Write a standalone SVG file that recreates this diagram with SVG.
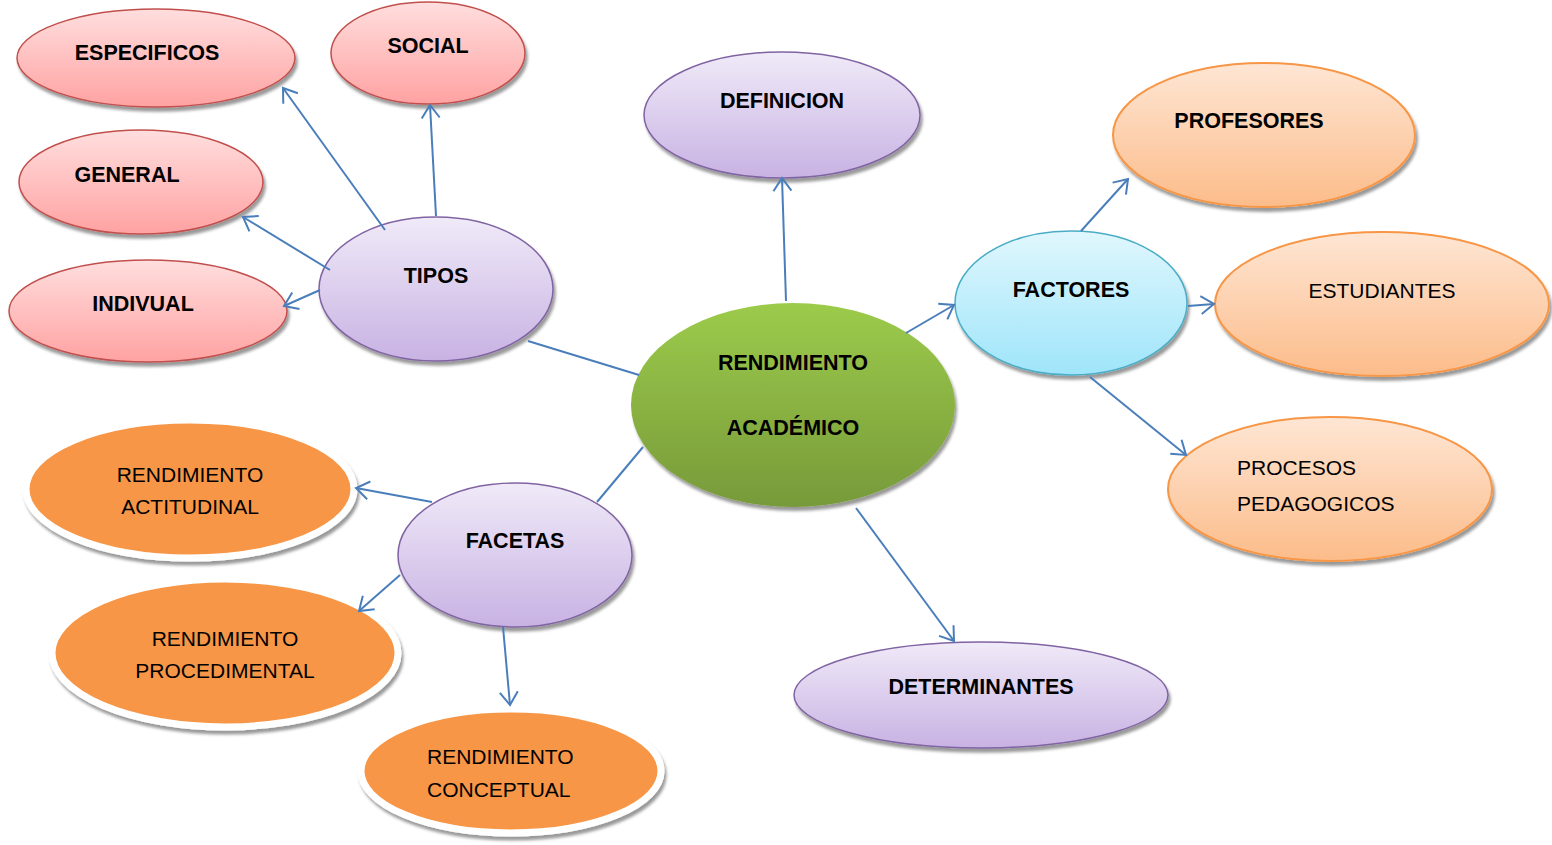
<svg xmlns="http://www.w3.org/2000/svg" width="1552" height="845" viewBox="0 0 1552 845">
<defs>
<linearGradient id="gPink" x1="0" y1="0" x2="0" y2="1"><stop offset="0" stop-color="#FFDEDE"/><stop offset="1" stop-color="#FFA2A2"/></linearGradient>
<linearGradient id="gLav" x1="0" y1="0" x2="0" y2="1"><stop offset="0" stop-color="#F0EAF8"/><stop offset="1" stop-color="#C8B2E3"/></linearGradient>
<linearGradient id="gCyan" x1="0" y1="0" x2="0" y2="1"><stop offset="0" stop-color="#E0F7FD"/><stop offset="1" stop-color="#9FE5FA"/></linearGradient>
<linearGradient id="gPeach" x1="0" y1="0" x2="0" y2="1"><stop offset="0" stop-color="#FEE6D4"/><stop offset="1" stop-color="#FCBC8A"/></linearGradient>
<linearGradient id="gGreen" x1="0" y1="0" x2="0" y2="1"><stop offset="0" stop-color="#9CCB4B"/><stop offset="1" stop-color="#779A3A"/></linearGradient>
<filter id="sh" x="-10%" y="-10%" width="125%" height="130%"><feDropShadow dx="2" dy="4" stdDeviation="1.5" flood-color="#000" flood-opacity="0.4"/></filter>
<marker id="arr" markerUnits="userSpaceOnUse" markerWidth="22" markerHeight="22" viewBox="0 0 22 22" refX="15" refY="11" orient="auto">
<path d="M2,2 L15,11 L2,20" fill="none" stroke="#4A7EBB" stroke-width="2"/>
</marker>
</defs>
<style>
.pink{fill:url(#gPink);stroke:#C0504D;stroke-width:1.5;filter:url(#sh)}
.lav{fill:url(#gLav);stroke:#8064A2;stroke-width:1.5;filter:url(#sh)}
.cyan{fill:url(#gCyan);stroke:#4BACC6;stroke-width:1.5;filter:url(#sh)}
.peach{fill:url(#gPeach);stroke:#F79646;stroke-width:2;filter:url(#sh)}
.green{fill:url(#gGreen);stroke:none;filter:url(#sh)}
.orng{fill:#F79646;stroke:#FFFFFF;stroke-width:7;filter:url(#sh)}
.b{font-family:"Liberation Sans",Arial,sans-serif;font-weight:bold;font-size:21.5px;fill:#000;text-anchor:middle}
.n{font-family:"Liberation Sans",Arial,sans-serif;font-size:21px;fill:#000;text-anchor:middle}
.nl{font-family:"Liberation Sans",Arial,sans-serif;font-size:21px;fill:#000}
.c{stroke:#4A7EBB;stroke-width:2;fill:none}
.ca{stroke:#4A7EBB;stroke-width:2;fill:none;marker-end:url(#arr)}
</style>
<rect width="1552" height="845" fill="#FFFFFF"/>
<g id="especificos"><ellipse class="pink" cx="156" cy="58" rx="139" ry="49"/><text class="b" x="147" y="60">ESPECIFICOS</text></g>
<g id="social"><ellipse class="pink" cx="428" cy="53" rx="97" ry="51"/><text class="b" x="428" y="53">SOCIAL</text></g>
<g id="general"><ellipse class="pink" cx="141" cy="182" rx="122" ry="52"/><text class="b" x="127" y="182">GENERAL</text></g>
<g id="indivual"><ellipse class="pink" cx="148" cy="311" rx="139" ry="51"/><text class="b" x="143" y="311">INDIVUAL</text></g>
<g id="tipos"><ellipse class="lav" cx="436" cy="289" rx="117" ry="72"/><text class="b" x="436" y="283">TIPOS</text></g>
<g id="definicion"><ellipse class="lav" cx="782" cy="115" rx="138" ry="63"/><text class="b" x="782" y="108">DEFINICION</text></g>
<g id="rendimiento"><ellipse class="green" cx="793" cy="405" rx="162" ry="102"/><text class="b" x="793" y="370">RENDIMIENTO</text><text class="b" x="793" y="435">ACADÉMICO</text></g>
<g id="factores"><ellipse class="cyan" cx="1071" cy="303" rx="116" ry="72"/><text class="b" x="1071" y="297">FACTORES</text></g>
<g id="profesores"><ellipse class="peach" cx="1264" cy="135" rx="151" ry="72"/><text class="b" x="1249" y="128">PROFESORES</text></g>
<g id="estudiantes"><ellipse class="peach" cx="1382" cy="304" rx="167" ry="72"/><text class="n" x="1382" y="298">ESTUDIANTES</text></g>
<g id="procesos"><ellipse class="peach" cx="1330" cy="489" rx="162" ry="72"/><text class="nl" x="1237" y="475">PROCESOS</text><text class="nl" x="1237" y="511">PEDAGOGICOS</text></g>
<g id="facetas"><ellipse class="lav" cx="515" cy="555" rx="117" ry="72"/><text class="b" x="515" y="548">FACETAS</text></g>
<g id="actitudinal"><ellipse class="orng" cx="190" cy="489" rx="164" ry="69"/><text class="n" x="190" y="482">RENDIMIENTO</text><text class="n" x="190" y="514">ACTITUDINAL</text></g>
<g id="procedimental"><ellipse class="orng" cx="225" cy="653" rx="173" ry="74"/><text class="n" x="225" y="646">RENDIMIENTO</text><text class="n" x="225" y="678">PROCEDIMENTAL</text></g>
<g id="conceptual"><ellipse class="orng" cx="511" cy="771" rx="150" ry="62"/><text class="nl" x="427" y="764">RENDIMIENTO</text><text class="nl" x="427" y="797">CONCEPTUAL</text></g>
<g id="determinantes"><ellipse class="lav" cx="981" cy="695" rx="187" ry="53"/><text class="b" x="981" y="694">DETERMINANTES</text></g>
<g id="connectors">
<line class="ca" x1="385" y1="230" x2="283" y2="88"/>
<line class="ca" x1="436" y1="216" x2="430" y2="105"/>
<line class="ca" x1="330" y1="270" x2="243" y2="217"/>
<line class="ca" x1="320" y1="290" x2="284" y2="306"/>
<line class="c" x1="528" y1="341" x2="639" y2="375"/>
<line class="ca" x1="786" y1="301" x2="782" y2="178"/>
<line class="ca" x1="906" y1="333" x2="954" y2="305"/>
<line class="ca" x1="1081" y1="231" x2="1128" y2="179"/>
<line class="ca" x1="1188" y1="306" x2="1214" y2="304"/>
<line class="ca" x1="1090" y1="377" x2="1186" y2="455"/>
<line class="ca" x1="856" y1="508" x2="954" y2="641"/>
<line class="c" x1="643" y1="447" x2="597" y2="502"/>
<line class="ca" x1="432" y1="502" x2="356" y2="488"/>
<line class="ca" x1="400" y1="575" x2="359" y2="611"/>
<line class="ca" x1="503" y1="627" x2="510" y2="705"/>
</g>
</svg>
